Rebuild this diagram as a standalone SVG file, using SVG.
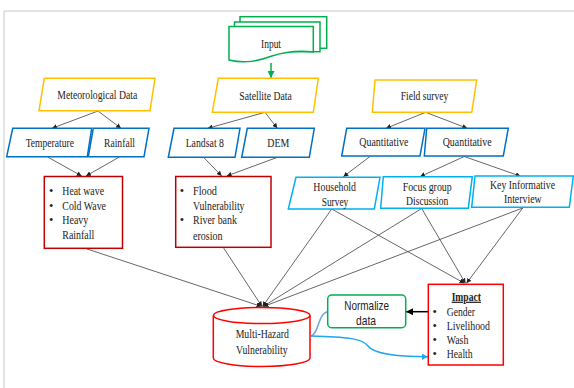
<svg xmlns="http://www.w3.org/2000/svg" width="574" height="388" viewBox="0 0 574 388">
<style>
text{font-family:"Liberation Serif","Times New Roman",serif;font-size:12.5px;fill:#222}
.c{text-anchor:middle}
.sans{font-family:"Liberation Sans",Arial,sans-serif;font-size:13px}
.yel{fill:#fff;stroke:#FFC000;stroke-width:1.5}
.blu{fill:#fff;stroke:#0070C0;stroke-width:1.5}
.lbl{fill:#fff;stroke:#00B0F0;stroke-width:1.5}
.red{fill:#fff;stroke:#C00000;stroke-width:1.5}
.rred{fill:#fff;stroke:#FF0000;stroke-width:1.5}
.grn{fill:#fff;stroke:#00B050;stroke-width:1.5}
.ln{stroke:#404040;stroke-width:0.8;fill:none;marker-end:url(#ah)}
</style>
<defs>
<marker id="ah" markerWidth="5" markerHeight="5" refX="5" refY="2.5" orient="auto" markerUnits="userSpaceOnUse"><path d="M0,0 L5,2.5 L0,5 z" fill="#222"/></marker>
<marker id="ahg" markerWidth="7" markerHeight="7" refX="7" refY="3.5" orient="auto" markerUnits="userSpaceOnUse"><path d="M0,0 L7,3.5 L0,7 z" fill="#00B050"/></marker>
<marker id="ahb" markerWidth="6" markerHeight="6" refX="6" refY="3" orient="auto" markerUnits="userSpaceOnUse"><path d="M0,0 L6,3 L0,6 z" fill="#1EA7EC"/></marker>
<marker id="ahk" markerWidth="7" markerHeight="7" refX="7" refY="3.5" orient="auto" markerUnits="userSpaceOnUse"><path d="M0,0 L7,3.5 L0,7 z" fill="#000"/></marker>
</defs>
<g id="frame" stroke="#c8c8c8" stroke-width="1" fill="none"><path d="M4,388 L4,11 L574,11"/></g>

<g id="connectors">
<path d="M271,63 L271,78" stroke="#00B050" stroke-width="1.5" marker-end="url(#ahg)"/>
<path class="ln" d="M98,111 L52,128.3"/>
<path class="ln" d="M98,111 L121,128.3"/>
<path class="ln" d="M265,112.3 L207.7,128.3"/>
<path class="ln" d="M265,112.3 L277.3,128.3"/>
<path class="ln" d="M425.7,112.3 L386,128.3"/>
<path class="ln" d="M425.7,112.3 L467.3,128.3"/>
<path class="ln" d="M47.7,157 L81.7,176"/>
<path class="ln" d="M119.3,157 L86,176"/>
<path class="ln" d="M203.3,157 L221.7,176"/>
<path class="ln" d="M278.3,157 L226.7,176"/>
<path class="ln" d="M370,156.5 L343.3,176.7"/>
<path class="ln" d="M464.3,156.5 L420,176.7"/>
<path class="ln" d="M464.3,156.5 L520.7,176.3"/>
<path class="ln" d="M85,248.3 L261.5,306.5"/>
<path class="ln" d="M223.3,247.5 L262,306.5"/>
<path class="ln" d="M331.7,209 L262.5,306.5"/>
<path class="ln" d="M421.7,208.5 L263,306.5"/>
<path class="ln" d="M522.7,208 L263.5,306.5"/>
<path class="ln" d="M331.7,209 L464.5,283.3"/>
<path class="ln" d="M421.7,208.5 L465.5,283.3"/>
<path class="ln" d="M522.7,208 L466.5,283.3"/>
<path d="M428.3,311.7 L406,311.7" stroke="#000" stroke-width="1.5" fill="none" marker-end="url(#ahk)"/>
<path d="M311,336 C319,334 318,313 327.7,311.7" stroke="#6FA8DC" stroke-width="1.5" fill="none"/>
<path d="M311,336 C345,337 362,338 368,346 C373,353 390,356.7 428,356.7" stroke="#1EA7EC" stroke-width="1.5" fill="none" marker-end="url(#ahb)"/>
</g>

<g id="input">
<rect class="grn" x="240" y="16.7" width="86.7" height="31.6"/>
<rect class="grn" x="234.5" y="22" width="85.5" height="29.7"/>
<path class="grn" d="M229,26.5 L313.3,26.5 L313.3,52 C300,50.5 288,51 272,56 C258,61 245,64 229,60 Z"/>
<text class="c" x="271" y="47.5" textLength="20" lengthAdjust="spacingAndGlyphs">Input</text>
</g>

<g id="met-data">
<path class="yel" d="M44.3,78.3 L155,78.3 L150,110.7 L39,110.7 Z"/>
<text class="c" x="97.3" y="99" textLength="80" lengthAdjust="spacingAndGlyphs">Meteorological Data</text>
</g>
<g id="sat-data">
<path class="yel" d="M218.3,78.3 L318.3,78.3 L313.3,112.3 L212.3,112.3 Z"/>
<text class="c" x="265.5" y="100" textLength="52.4" lengthAdjust="spacingAndGlyphs">Satellite Data</text>
</g>
<g id="field-survey">
<path class="yel" d="M375,80 L476.7,80 L471.7,112.3 L372.3,112.3 Z"/>
<text class="c" x="424.5" y="100" textLength="47.6" lengthAdjust="spacingAndGlyphs">Field survey</text>
</g>

<g id="temperature">
<path class="blu" d="M12.7,128.3 L91.7,128.3 L87.3,156.7 L6.7,156.7 Z"/>
<text class="c" x="49.8" y="146.7" textLength="48.3" lengthAdjust="spacingAndGlyphs">Temperature</text>
</g>
<g id="rainfall">
<path class="blu" d="M93.3,128.3 L149,128.3 L144,156.7 L88.3,156.7 Z"/>
<text class="c" x="119.5" y="146.7" textLength="31" lengthAdjust="spacingAndGlyphs">Rainfall</text>
</g>
<g id="landsat">
<path class="blu" d="M174,128.3 L240,128.3 L235,157.3 L168.3,157.3 Z"/>
<text class="c" x="204.8" y="146.7" textLength="38.3" lengthAdjust="spacingAndGlyphs">Landsat 8</text>
</g>
<g id="dem">
<path class="blu" d="M247.3,128.3 L314.3,128.3 L309.3,157.3 L241.7,157.3 Z"/>
<text class="c" x="278.3" y="146.7" textLength="22" lengthAdjust="spacingAndGlyphs">DEM</text>
</g>
<g id="quant1">
<path class="blu" d="M346.7,128.3 L425,128.3 L420,156 L341.7,156 Z"/>
<text class="c" x="383.8" y="146.3" textLength="49" lengthAdjust="spacingAndGlyphs">Quantitative</text>
</g>
<g id="quant2">
<path class="blu" d="M426.7,128.3 L508.3,128.3 L503.3,156 L424.3,156 Z"/>
<text class="c" x="467.2" y="146.3" textLength="49" lengthAdjust="spacingAndGlyphs">Quantitative</text>
</g>

<g id="household">
<path class="lbl" d="M296,177.3 L380,177.3 L374.3,209 L288.3,209 Z"/>
<text class="c" x="334.7" y="190.7" textLength="42.7" lengthAdjust="spacingAndGlyphs">Household</text>
<text class="c" x="335" y="205.7" textLength="26.7" lengthAdjust="spacingAndGlyphs">Survey</text>
</g>
<g id="focus">
<path class="lbl" d="M383.3,176.7 L472.3,176.7 L468.3,208.3 L380.7,208.3 Z"/>
<text class="c" x="427.2" y="190.7" textLength="49" lengthAdjust="spacingAndGlyphs">Focus group</text>
<text class="c" x="427.2" y="205" textLength="42.3" lengthAdjust="spacingAndGlyphs">Discussion</text>
</g>
<g id="key-interview">
<path class="lbl" d="M475,176 L573.3,176 L569.3,207.3 L471.7,207.3 Z"/>
<text class="c" x="522.5" y="189" textLength="65" lengthAdjust="spacingAndGlyphs">Key Informative</text>
<text class="c" x="522.8" y="203.3" textLength="37.7" lengthAdjust="spacingAndGlyphs">Interview</text>
</g>

<g id="met-hazards">
<rect class="red" x="44.3" y="176.5" width="78.2" height="71.8"/>
<text x="49" y="195">•</text><text x="62.3" y="195" textLength="41.7" lengthAdjust="spacingAndGlyphs">Heat wave</text>
<text x="49" y="209.7">•</text><text x="62.3" y="209.7" textLength="43.7" lengthAdjust="spacingAndGlyphs">Cold Wave</text>
<text x="49" y="224">•</text><text x="62.3" y="224" textLength="26" lengthAdjust="spacingAndGlyphs">Heavy</text>
<text x="62.3" y="239" textLength="32" lengthAdjust="spacingAndGlyphs">Rainfall</text>
</g>
<g id="sat-hazards">
<rect class="red" x="175.7" y="176.5" width="95.3" height="70.8"/>
<text x="179.7" y="195">•</text><text x="193" y="195" textLength="24" lengthAdjust="spacingAndGlyphs">Flood</text>
<text x="193" y="209.7" textLength="51.5" lengthAdjust="spacingAndGlyphs">Vulnerability</text>
<text x="179.7" y="224">•</text><text x="193" y="224" textLength="44" lengthAdjust="spacingAndGlyphs">River bank</text>
<text x="193" y="239.5" textLength="29.5" lengthAdjust="spacingAndGlyphs">erosion</text>
</g>

<g id="mhv">
<path class="rred" d="M213.3,315.5 L213.3,358 A48.3,8.5 0 0 0 310,358 L310,315.5"/>
<ellipse class="rred" cx="261.7" cy="315.5" rx="48.3" ry="8"/>
<text class="c" x="262.3" y="337.5" textLength="53.3" lengthAdjust="spacingAndGlyphs">Multi-Hazard</text>
<text class="c" x="261.8" y="353.5" textLength="51.7" lengthAdjust="spacingAndGlyphs">Vulnerability</text>
</g>

<g id="normalize">
<rect class="grn" x="327.7" y="295" width="78" height="32.7" rx="4"/>
<text class="c sans" x="366.7" y="309.5" textLength="44.7" lengthAdjust="spacingAndGlyphs">Normalize</text>
<text class="c sans" x="366" y="324.5" textLength="20" lengthAdjust="spacingAndGlyphs">data</text>
</g>

<g id="impact">
<rect class="rred" x="428.3" y="284.3" width="75" height="80.7"/>
<text class="c" x="466.3" y="300.7" font-weight="bold" text-decoration="underline" textLength="29.3" lengthAdjust="spacingAndGlyphs">Impact</text>
<text x="432.5" y="315.7">•</text><text x="446.7" y="315.7" textLength="28.3" lengthAdjust="spacingAndGlyphs">Gender</text>
<text x="432.5" y="330">•</text><text x="446.7" y="330" textLength="43.3" lengthAdjust="spacingAndGlyphs">Livelihood</text>
<text x="432.5" y="344">•</text><text x="446.7" y="344" textLength="21.7" lengthAdjust="spacingAndGlyphs">Wash</text>
<text x="432.5" y="358.3">•</text><text x="446.7" y="358.3" textLength="26" lengthAdjust="spacingAndGlyphs">Health</text>
</g>
</svg>
